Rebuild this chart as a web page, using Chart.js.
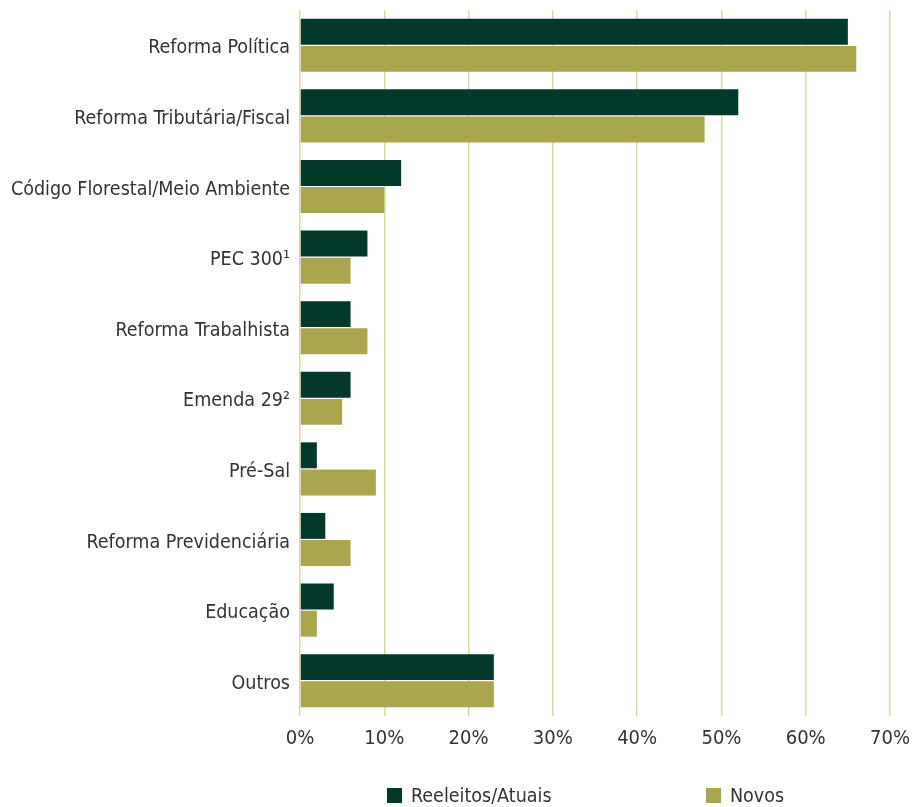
<!DOCTYPE html>
<html>
<head>
<meta charset="utf-8">
<script src="https://cdn.jsdelivr.net/npm/chart.js@4/dist/chart.umd.min.js"></script>
<style>
  html, body { margin: 0; padding: 0; background: #fff; }
  .wrap { position: relative; width: 916px; height: 807px; }
  #chart { position: absolute; left: 0; top: 0; }
  .legend { position: absolute; top: 784px; left: 0; width: 916px; height: 24px; font-family: "Liberation Sans Narrow", "DejaVu Sans Condensed", sans-serif; font-size: 19.5px; color: #333; }
  .legend .item { position: absolute; top: 0; display: flex; align-items: center; }
  .legend .box { width: 15px; height: 15px; margin-right: 9px; }
</style>
</head>
<body>
<div class="wrap">
  <canvas id="chart" width="916" height="807"></canvas>
  <div class="legend" id="legend"></div>
</div>
<script>
const categories = [
  "Reforma Política",
  "Reforma Tributária/Fiscal",
  "Código Florestal/Meio Ambiente",
  "PEC 300¹",
  "Reforma Trabalhista",
  "Emenda 29²",
  "Pré-Sal",
  "Reforma Previdenciária",
  "Educação",
  "Outros",
];
const reeleitos = [65, 52, 12, 8, 6, 6, 2, 3, 4, 23];
const novos = [66, 48, 10, 6, 8, 5, 9, 6, 2, 23];
const xTicks = [0, 10, 20, 30, 40, 50, 60, 70];

const fontFamily = '"Liberation Sans Narrow", "DejaVu Sans Condensed", sans-serif';
const darkGreen = "#04382b";
const olive = "#a9a64f";

const datasets = [
  { label: "Reeleitos/Atuais", data: reeleitos, backgroundColor: darkGreen },
  { label: "Novos", data: novos, backgroundColor: olive },
];

const chart = new Chart(document.getElementById("chart"), {
  type: "bar",
  data: { labels: categories, datasets },
  options: {
    indexAxis: "y",
    responsive: false,
    animation: false,
    categoryPercentage: 0.77,
    barPercentage: 0.955,
    layout: { padding: { top: 10, right: 26, bottom: 51, left: 0 } },
    plugins: { legend: { display: false }, tooltip: { enabled: false } },
    scales: {
      x: {
        min: 0,
        max: 70,
        afterBuildTicks: (scale) => { scale.ticks = xTicks.map(v => ({ value: v })); },
        afterFit: (scale) => {
          scale.height = 40;
          scale.paddingLeft = 0;
          scale.paddingRight = 0;
        },
        grid: { color: "#dcd7a6", lineWidth: 1.5, drawTicks: false },
        border: { display: false },
        ticks: {
          color: "#333",
          padding: 11,
          font: { family: fontFamily, size: 20 },
          callback: (v) => `${v}%`,
        },
      },
      y: {
        afterFit: (scale) => {
          scale.width = 300;
          scale.paddingTop = 0;
          scale.paddingBottom = 0;
        },
        grid: { display: false, drawTicks: false },
        border: { display: false },
        ticks: {
          color: "#333",
          padding: 10,
          labelOffset: 3,
          font: { family: fontFamily, size: 19.5 },
        },
      },
    },
  },
});

// legend spread out under the plot, like the original
const legendPos = [387, 706];
document.getElementById("legend").innerHTML = datasets.map((d, i) => `
  <div class="item" style="left:${legendPos[i]}px">
    <span class="box" style="background:${d.backgroundColor}"></span>${d.label}
  </div>
`).join("");
</script>
</body>
</html>
